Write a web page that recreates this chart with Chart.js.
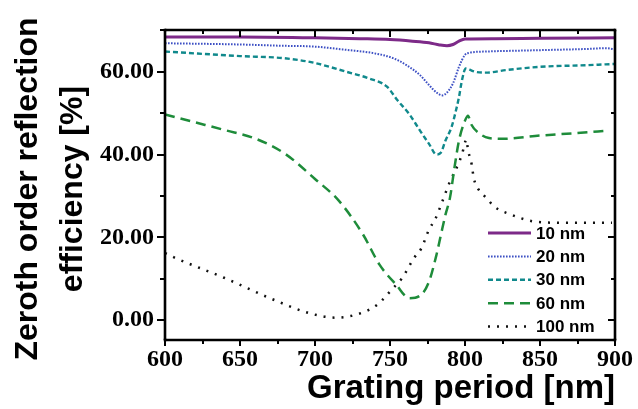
<!DOCTYPE html>
<html><head><meta charset="utf-8">
<script src="https://cdn.jsdelivr.net/npm/chart.js@4/dist/chart.umd.min.js"></script>
<style>html,body{margin:0;padding:0;background:#fff;}canvas{display:block;}</style>
</head><body>
<canvas id="c" width="638" height="409"></canvas>
<script>
// ---- data ----
const seriesLabels = ['10 nm', '20 nm', '30 nm', '60 nm', '100 nm'];

const x10 = [600, 650, 700, 730, 750, 765, 776, 783, 788, 792, 796, 800, 820, 850, 900];
const y10 = [68.4, 68.4, 68.2, 68.0, 67.8, 67.4, 67.0, 66.5, 66.3, 66.6, 67.4, 67.9, 68.0, 68.1, 68.2];

const x20 = [600, 650, 677, 699, 721, 739, 752, 761, 770, 776, 781, 785, 788, 792, 796, 800, 803, 814, 835, 858, 880, 894, 900];
const y20 = [66.9, 66.6, 66.3, 66.1, 65.3, 64.5, 63.3, 61.6, 59.2, 56.8, 55.0, 54.3, 55.0, 57.2, 61.2, 64.1, 64.6, 64.9, 65.1, 65.3, 65.5, 65.7, 65.4];

const x30 = [600, 650, 679, 699, 721, 736, 748, 755, 763, 770, 776, 781, 784, 787, 791, 794, 796, 798, 800.5, 803, 807, 814, 827, 850, 881, 900];
const y30 = [64.9, 63.8, 63.3, 62.2, 60.0, 58.4, 56.4, 53.1, 49.7, 45.8, 42.6, 40.0, 40.5, 43.4, 46.6, 50.7, 53.9, 58.0, 60.8, 60.5, 60.0, 59.8, 60.4, 61.2, 61.6, 61.9];

const x60 = [600, 620, 640, 660, 680, 700, 716, 732, 743, 754, 763, 771, 776, 781, 784, 787, 790, 793, 796, 800, 802, 804, 810, 816, 825, 850, 875, 895];
const y60 = [49.7, 47.8, 45.9, 43.9, 40.2, 34.1, 28.8, 20.7, 13.4, 8.6, 5.3, 6.2, 9.3, 15.8, 20.7, 25.5, 29.6, 36.9, 43.4, 48.2, 49.4, 47.4, 45.0, 44.0, 43.8, 44.6, 45.2, 45.8];

const x100 = [600, 607, 639, 670, 697, 714, 728, 741, 752, 758, 766, 771, 776, 780, 785, 790, 796, 798, 801, 802, 804, 806, 809, 814, 820, 830, 845, 867, 898];
const y100 = [16.2, 15.0, 10.3, 5.3, 1.6, 0.6, 1.4, 3.6, 7.7, 10.1, 15.0, 17.4, 21.9, 24.3, 28.8, 33.5, 38.1, 40.1, 43.6, 41.0, 38.5, 34.1, 31.6, 29.6, 27.3, 25.6, 23.9, 23.5, 23.5];

const xTicks = [600, 650, 700, 750, 800, 850, 900];
const yTicks = [0, 20, 40, 60];
const xTitle = 'Grating period [nm]';
const yTitle = ['Zeroth order reflection', 'efficiency [%]'];

// ---- build ----
function pts(xs, ys) { return xs.map((x, i) => ({ x: x, y: ys[i] })); }

const styles = [
  { color: '#7d2a88', width: 3, dash: [] },
  { color: '#3d50c4', width: 2, dash: [1.6, 1.4] },
  { color: '#10898c', width: 2.4, dash: [5, 3] },
  { color: '#1e8c3a', width: 2.5, dash: [10, 6] },
  { color: '#111111', width: 2.5, dash: [2, 7] }
];
const seriesData = [pts(x10, y10), pts(x20, y20), pts(x30, y30), pts(x60, y60), pts(x100, y100)];

const datasets = seriesData.map((d, i) => ({
  label: seriesLabels[i],
  data: d,
  borderColor: styles[i].color,
  borderWidth: styles[i].width,
  borderDash: styles[i].dash,
  pointRadius: 0,
  fill: false,
  cubicInterpolationMode: 'monotone'
}));

function seg(ctx, x0, y0, x1, y1) {
  ctx.beginPath();
  ctx.moveTo(x0, y0);
  ctx.lineTo(x1, y1);
  ctx.stroke();
}

const decor = {
  id: 'decor',
  afterDraw(chart) {
    const ctx = chart.ctx;
    const a = chart.chartArea;
    const xs = chart.scales.x, ys = chart.scales.y;
    const L = Math.round(a.left), R = Math.round(a.right), T = Math.round(a.top), B = Math.round(a.bottom);
    ctx.save();
    ctx.setLineDash([]);
    ctx.strokeStyle = '#000000';
    ctx.globalAlpha = 1;
    ctx.lineCap = 'butt';

    // ticks
    ctx.lineWidth = 2;
    const xStep = (xTicks[1] - xTicks[0]) / 2;
    for (let v = xTicks[0]; v <= xTicks[xTicks.length - 1]; v += xStep) {
      const px = Math.round(xs.getPixelForValue(v));
      const major = xTicks.indexOf(v) >= 0;
      seg(ctx, px, B, px, B + (major ? 6 : 4));
      seg(ctx, px, T, px, T + (major ? 7 : 4));
    }
    const yStep = (yTicks[1] - yTicks[0]) / 2;
    for (let v = yTicks[0] - yStep; v <= ys.max; v += yStep) {
      if (v < ys.min) continue;
      const py = Math.round(ys.getPixelForValue(v));
      const major = yTicks.indexOf(v) >= 0;
      seg(ctx, L, py, L - (major ? 8 : 5), py);
      seg(ctx, R, py, R - (major ? 7 : 4), py);
    }

    // frame
    ctx.lineWidth = 2.6;
    seg(ctx, L, T, R, T);
    seg(ctx, R, T, R, B);
    seg(ctx, R, B, L, B);
    seg(ctx, L, B, L, T);
    ctx.fillStyle = '#000000';
    ctx.fillRect(L - 1.3, T - 1.3, 2.6, 2.6);
    ctx.fillRect(R - 1.3, T - 1.3, 2.6, 2.6);
    ctx.fillRect(L - 1.3, B - 1.3, 2.6, 2.6);
    ctx.fillRect(R - 1.3, B - 1.3, 2.6, 2.6);

    // legend
    const lx0 = R - 127, lx1 = R - 84, tx = R - 79;
    let ly = B - 107;
    ctx.font = "bold 17px 'Liberation Sans', Arial, sans-serif";
    ctx.textAlign = 'left';
    ctx.textBaseline = 'middle';
    chart.data.datasets.forEach((ds) => {
      ctx.strokeStyle = ds.borderColor;
      ctx.lineWidth = ds.borderWidth;
      ctx.setLineDash(ds.borderDash);
      seg(ctx, lx0, ly, lx1, ly);
      ctx.setLineDash([]);
      ctx.fillStyle = '#000000';
      ctx.fillText(ds.label, tx, ly + 1);
      ly += 23.4;
    });

    // y title (two lines, rotated)
    ctx.translate(0, (T + B) / 2 + 4);
    ctx.rotate(-Math.PI / 2);
    ctx.font = "bold 32px 'Liberation Sans', Arial, sans-serif";
    ctx.textAlign = 'center';
    ctx.textBaseline = 'middle';
    ctx.fillStyle = '#000000';
    ctx.fillText(yTitle[0], 0, 28);
    ctx.fillText(yTitle[1], 0, 73);
    ctx.restore();
  }
};

new Chart(document.getElementById('c'), {
  type: 'line',
  data: { datasets: datasets },
  options: {
    responsive: false,
    animation: false,
    devicePixelRatio: 1,
    layout: { padding: { top: 30, right: 22, left: 0, bottom: 0 } },
    plugins: { legend: { display: false }, tooltip: { enabled: false } },
    scales: {
      x: {
        type: 'linear',
        min: 600, max: 900,
        grid: { display: false, drawTicks: false },
        border: { display: false },
        afterBuildTicks: (s) => { s.ticks = xTicks.map(v => ({ value: v })); },
        afterFit: (s) => { s.height = 69; },
        ticks: {
          color: '#000',
          padding: 5,
          maxRotation: 0,
          font: { family: "'Liberation Serif', 'Times New Roman', serif", size: 24, weight: 'bold' },
          callback: (v) => String(v)
        },
        title: {
          display: true,
          text: xTitle,
          align: 'end',
          color: '#000',
          font: { family: "'Liberation Sans', Arial, sans-serif", size: 33, weight: 'bold' },
          padding: { top: 0, bottom: 0 }
        }
      },
      y: {
        type: 'linear',
        min: -4.8, max: 70.1,
        grid: { display: false, drawTicks: false },
        border: { display: false },
        afterBuildTicks: (s) => { s.ticks = yTicks.map(v => ({ value: v })); },
        afterFit: (s) => { s.width = 165; },
        ticks: {
          color: '#000',
          padding: 11,
          font: { family: "'Liberation Serif', 'Times New Roman', serif", size: 24, weight: 'bold' },
          callback: (v) => Number(v).toFixed(2)
        }
      }
    }
  },
  plugins: [decor]
});
</script>
</body></html>
